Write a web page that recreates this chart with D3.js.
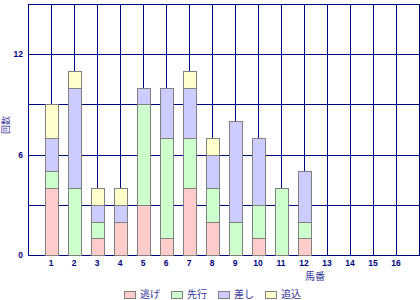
<!DOCTYPE html>
<html><head><meta charset="utf-8">
<script src="https://cdn.jsdelivr.net/npm/d3@7"></script>
<style>body{margin:0;background:#fff}svg{display:block}</style>
</head><body>
<svg id="c" width="420" height="300"></svg>
<script>
const categories = ["1","2","3","4","5","6","7","8","9","10","11","12","13","14","15","16"];
const seriesNames = ["逃げ","先行","差し","追込"];
const nige   = [4,0,1,2,3,1,4,2,0,1,0,1,0,0,0,0];
const senko  = [1,4,1,0,6,6,3,2,2,2,4,1,0,0,0,0];
const sashi  = [2,6,1,1,1,3,3,2,6,4,0,3,0,0,0,0];
const oikomi = [2,1,1,1,0,0,1,1,0,0,0,0,0,0,0,0];
const yTicks = [0,6,12];
const yGrid = [3,6,9,12,15];
const colors = ["#FFCCCC","#CCFFCC","#CCCCFF","#FFFFCC"];

const svg = d3.select("#c");
const L=28, R=419, T=4, B=255;
const x = d3.scaleLinear().domain([0, categories.length+1]).range([L, R]);
const y = d3.scaleLinear().domain([0, 15]).range([B, T]);
const navy = "#000080";

// grid
svg.append("g").selectAll("line").data(yGrid).join("line")
  .attr("x1",L).attr("x2",R).attr("y1",d=>Math.round(y(d))+0.5).attr("y2",d=>Math.round(y(d))+0.5)
  .attr("stroke",navy).attr("stroke-width",1);
svg.append("g").selectAll("line").data(d3.range(1, categories.length+2)).join("line")
  .attr("x1",d=>Math.round(x(d))+0.5).attr("x2",d=>Math.round(x(d))+0.5)
  .attr("y1",T).attr("y2",B).attr("stroke",navy).attr("stroke-width",1);
// axes
svg.append("line").attr("x1",L+0.5).attr("x2",L+0.5).attr("y1",T).attr("y2",B+1).attr("stroke",navy);
svg.append("line").attr("x1",L).attr("x2",R+1).attr("y1",B+0.5).attr("y2",B+0.5).attr("stroke",navy);

// stacked bars
const table = categories.map((c,i)=>({cat:c, i:i+1, "逃げ":nige[i], "先行":senko[i], "差し":sashi[i], "追込":oikomi[i]}));
const stack = d3.stack().keys(seriesNames)(table);
const bw = 13;
stack.forEach((s,si)=>{
  svg.append("g").selectAll("rect").data(s.filter(d=>d[1]>d[0])).join("rect")
    .attr("x",d=>Math.round(x(d.data.i)-bw/2)+0.5)
    .attr("y",d=>Math.round(y(d[1]))+0.5)
    .attr("width",bw)
    .attr("height",d=>Math.round(y(d[0]))-Math.round(y(d[1])))
    .attr("fill",colors[si]).attr("stroke","#808080").attr("stroke-width",1);
});

// tick labels
const tf = "'Liberation Sans', Arial, sans-serif";
svg.append("g").selectAll("text").data(yTicks).join("text")
  .attr("x",23).attr("y",d=>y(d)).attr("dy","0.35em").attr("text-anchor","end")
  .attr("font-family",tf).attr("font-weight","bold").attr("font-size",8.5).attr("fill",navy).text(d=>d);
svg.append("g").selectAll("text").data(categories).join("text")
  .attr("x",(d,i)=>x(i+1)).attr("y",263).attr("dy","0.35em").attr("text-anchor","middle")
  .attr("font-family",tf).attr("font-weight","bold").attr("font-size",8.5).attr("fill",navy).text(d=>d);

const jf = "'Noto Sans CJK JP', sans-serif";
svg.append("text").attr("x",315).attr("y",276).attr("dy","0.35em").attr("text-anchor","middle")
  .attr("font-family",jf).attr("font-size",10).attr("fill","#333399").text("馬番");
svg.append("text").attr("transform","translate(6,125) rotate(-90)").attr("dy","0.35em").attr("text-anchor","middle")
  .attr("font-family",jf).attr("font-size",9).attr("fill","#333399").text("回数");

// legend
const lg = svg.append("g");
let cx = 0;
seriesNames.forEach((n,i)=>{
  const g = lg.append("g").attr("transform",`translate(${cx},0)`);
  g.append("rect").attr("x",0.5).attr("y",291.5).attr("width",11).attr("height",7)
    .attr("fill",colors[i]).attr("stroke","#808080");
  const t = g.append("text").attr("x",16).attr("y",294.5).attr("dy","0.35em")
    .attr("font-family",jf).attr("font-size",10).attr("fill","#333399").text(n);
  cx += 16 + t.node().getComputedTextLength() + 11;
});
lg.attr("transform",`translate(124,0)`);
</script>
</body></html>
